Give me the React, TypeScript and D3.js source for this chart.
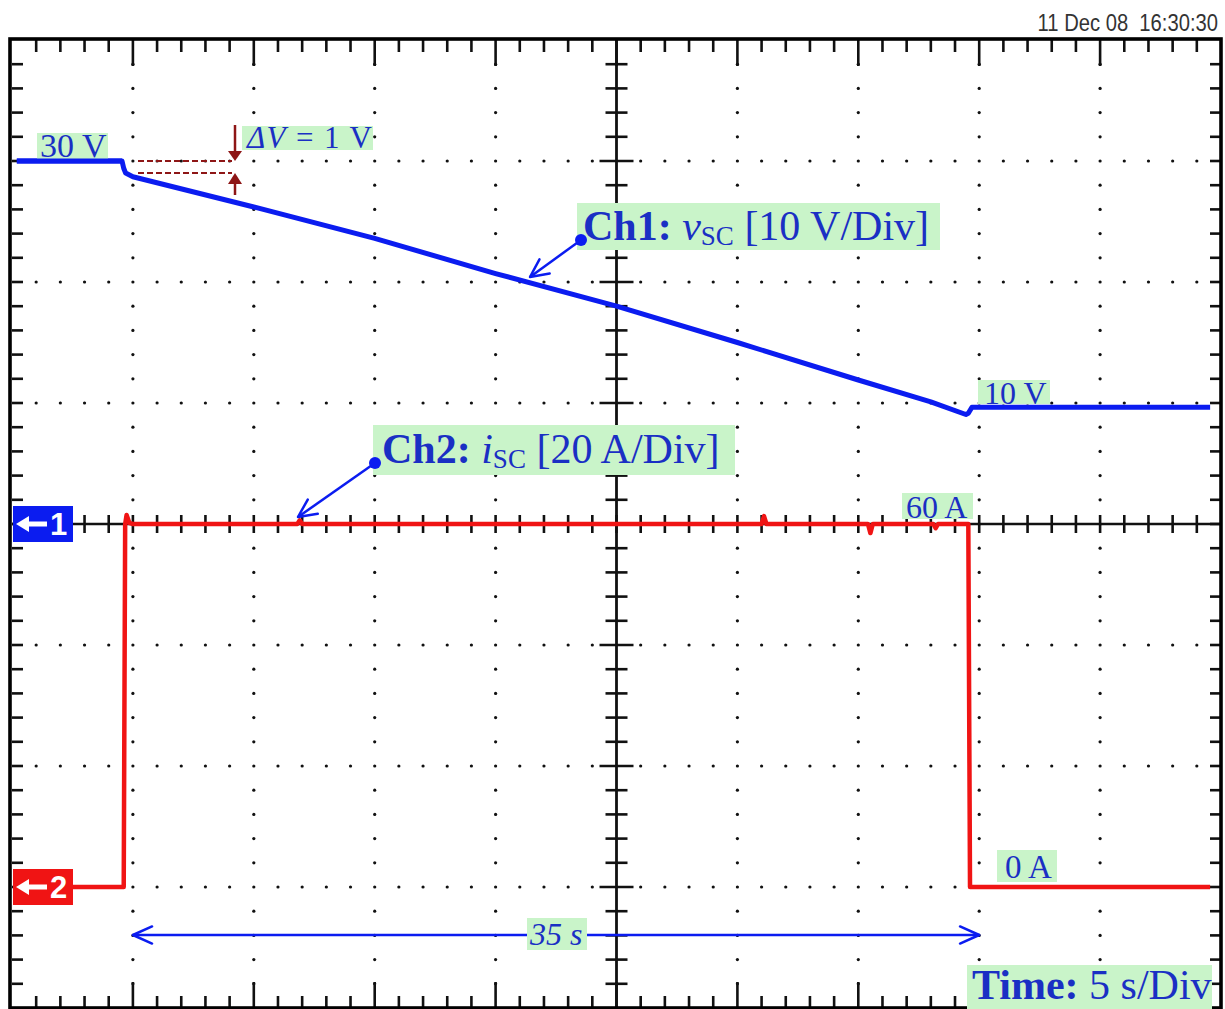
import React from "react";
import * as d3 from "d3";

// ---- data ----
// Ch1: supercapacitor voltage v_SC [V] vs time [s]
const ch1Time = [0.2, 4.55, 4.62, 4.7, 5.0, 10.0, 15.0, 20.0, 25.0, 30.0, 35.0, 38.0, 39.45, 39.55, 39.7, 49.55];
const ch1Volt = [30.0, 30.0, 29.4, 29.0, 28.7, 26.2, 23.6, 20.7, 18.0, 15.0, 11.9, 10.1, 9.05, 9.15, 9.65, 9.65];
// Ch2: supercapacitor current i_SC [A] vs time [s]
const ch2Time = [0.2, 4.62, 4.68, 4.74, 4.85, 5.0, 11.8, 11.9, 12.0, 31.0, 31.1, 31.2, 35.4, 35.5, 35.6, 38.1, 38.2, 38.3, 39.55, 39.62, 49.55];
const ch2Amp = [0, 0, 60, 61.5, 60.2, 60, 60, 60.6, 60, 60, 61.3, 60, 60, 58.5, 60, 60, 59.3, 60, 60, 0, 0];

const timeDivs = 10; // 5 s/Div
const secPerDiv = 5;
const vertDivs = 8;
const ch1VoltPerDiv = 10;
const ch2AmpPerDiv = 20;
const ch1Ground = 0; // divisions from center
const ch2Ground = -3;

const timestamp = "11 Dec 08  16:30:30";

const W = 1225;
const H = 1009;
const X0 = 12, X1 = 1221, Y0 = 40, Y1 = 1008;

const BLUE = "#0b1cf0";
const RED = "#f01414";
const TXT = "#1a2fc4";
const GREEN = "#c9f4c9";
const DARKRED = "#8e1616";
const SERIF = "'Liberation Serif', 'Times New Roman', serif";
const SANS = "'Liberation Sans', Arial, sans-serif";

export default function App() {
  const x = d3.scaleLinear().domain([0, timeDivs * secPerDiv]).range([X0, X1]);
  const yDiv = d3.scaleLinear().domain([-vertDivs / 2, vertDivs / 2]).range([Y1, Y0]);
  const yV = (v: number) => yDiv(v / ch1VoltPerDiv + ch1Ground);
  const yA = (a: number) => yDiv(a / ch2AmpPerDiv + ch2Ground);

  const ch1Pts: [number, number][] = ch1Time.map((t, i) => [x(t), yV(ch1Volt[i])]);
  const ch2Pts: [number, number][] = ch2Time.map((t, i) => [x(t), yA(ch2Amp[i])]);
  const line = d3.line();

  const xMinor = d3.range(1, timeDivs * 5); // 1/5 division steps
  const yMinor = d3.range(1, vertDivs * 5);
  const xm = (k: number) => x((k * secPerDiv) / 5);
  const ym = (k: number) => yDiv(-vertDivs / 2 + k / 5);
  const cx = x((timeDivs / 2) * secPerDiv);
  const cy = yDiv(0);

  const dots: JSX.Element[] = [];
  for (let i = 1; i < timeDivs; i++) {
    if (i === timeDivs / 2) continue;
    for (const k of yMinor) {
      dots.push(<circle key={`v${i}-${k}`} cx={x(i * secPerDiv)} cy={ym(k)} r={1.6} fill="#111" />);
    }
  }
  for (let j = -vertDivs / 2 + 1; j < vertDivs / 2; j++) {
    if (j === 0) continue;
    for (const k of xMinor) {
      if (k % 5 === 0) continue;
      dots.push(<circle key={`h${j}-${k}`} cx={xm(k)} cy={yDiv(j)} r={1.6} fill="#111" />);
    }
  }

  const ticks: JSX.Element[] = [];
  for (const k of xMinor) {
    const L = k % 5 === 0 ? 26 : 12;
    ticks.push(<line key={`tt${k}`} x1={xm(k)} x2={xm(k)} y1={Y0} y2={Y0 + L} />);
    ticks.push(<line key={`tb${k}`} x1={xm(k)} x2={xm(k)} y1={Y1} y2={Y1 - L} />);
    ticks.push(<line key={`tc${k}`} x1={xm(k)} x2={xm(k)} y1={cy - 9} y2={cy + 9} />);
  }
  for (const k of yMinor) {
    ticks.push(<line key={`tl${k}`} x1={X0} x2={X0 + 11} y1={ym(k)} y2={ym(k)} />);
    ticks.push(<line key={`tr${k}`} x1={X1} x2={X1 - 11} y1={ym(k)} y2={ym(k)} />);
    const L = k % 5 === 0 ? 17 : 11;
    ticks.push(<line key={`tv${k}`} x1={cx - L} x2={cx + L} y1={ym(k)} y2={ym(k)} />);
  }

  const chevron = (tx: number, ty: number, fx: number, fy: number, len: number, ang: number, color: string, sw: number) => {
    const a = Math.atan2(fy - ty, fx - tx);
    const p1 = [tx + len * Math.cos(a + ang), ty + len * Math.sin(a + ang)];
    const p2 = [tx + len * Math.cos(a - ang), ty + len * Math.sin(a - ang)];
    return (
      <path
        d={`M${p1[0]},${p1[1]} L${tx},${ty} L${p2[0]},${p2[1]}`}
        fill="none"
        stroke={color}
        strokeWidth={sw}
        strokeLinecap="round"
        strokeLinejoin="round"
      />
    );
  };

  const marker = (yc: number, color: string, label: string) => (
    <g>
      <rect x={13} y={yc - 18} width={60} height={36} fill={color} />
      <path d={`M16,${yc} L29,${yc - 8} L29,${yc - 2.5} L47,${yc - 2.5} L47,${yc + 2.5} L29,${yc + 2.5} L29,${yc + 8} Z`} fill="#fff" />
      <text x={50} y={yc + 11} fontFamily={SANS} fontWeight="bold" fontSize={31} fill="#fff">
        {label}
      </text>
    </g>
  );

  const arrowY = 935;
  const t35a = x(5), t35b = x(40);

  return (
    <svg width={W} height={H} style={{ position: "absolute", left: 0, top: 0, background: "#fff" }}>
      <rect x={0} y={0} width={W} height={H} fill="#fff" />
      <g transform="translate(1218,31) scale(0.86,1)">
        <text x={0} y={0} textAnchor="end" fontFamily={SANS} fontSize={23.5} fill="#333" style={{ whiteSpace: "pre" }}>
          {timestamp}
        </text>
      </g>

      {/* grid */}
      <g>{dots}</g>
      <g stroke="#111" strokeWidth={2.6}>{ticks}</g>
      <line x1={X0} x2={X1} y1={cy} y2={cy} stroke="#111" strokeWidth={2.6} />
      <line x1={cx} x2={cx} y1={Y0} y2={Y1} stroke="#111" strokeWidth={2.8} />
      <rect x={10} y={39} width={1211} height={969} fill="none" stroke="#000" strokeWidth={3.6} />

      {/* Delta V annotation */}
      <g stroke={DARKRED} strokeWidth={2} strokeDasharray="6,3">
        <line x1={138} x2={232} y1={yV(30)} y2={yV(30)} />
        <line x1={138} x2={232} y1={yV(29)} y2={yV(29)} />
      </g>
      <line x1={235} x2={235} y1={125} y2={152} stroke={DARKRED} strokeWidth={2.5} />
      <path d={`M228,151 L242,151 L235,${yV(30)} Z`} fill={DARKRED} />
      <line x1={235} x2={235} y1={195} y2={182} stroke={DARKRED} strokeWidth={2.5} />
      <path d={`M228,184 L242,184 L235,${yV(29)} Z`} fill={DARKRED} />

      {/* traces */}
      <path d={line(ch2Pts) || ""} fill="none" stroke={RED} strokeWidth={4.5} strokeLinejoin="round" />
      <path d={line(ch1Pts) || ""} fill="none" stroke={BLUE} strokeWidth={5} strokeLinejoin="round" />

      {/* 35 s arrow */}
      <line x1={t35a} x2={t35b} y1={arrowY} y2={arrowY} stroke={BLUE} strokeWidth={2.5} />
      {chevron(t35a, arrowY, t35a + 10, arrowY, 21, 0.42, BLUE, 2.5)}
      {chevron(t35b, arrowY, t35b - 10, arrowY, 21, 0.42, BLUE, 2.5)}

      {/* labels */}
      <rect x={37} y={133} width={71} height={28} fill={GREEN} />
      <text x={40} y={157} fontFamily={SERIF} fontSize={34} fill={TXT}>30 V</text>
      <path d={line(ch1Pts.slice(0, 2)) || ""} fill="none" stroke={BLUE} strokeWidth={5} />

      <rect x={242} y={126} width={131} height={24} fill={GREEN} />
      <text x={247} y={148} fontFamily={SERIF} fontSize={31} fill={TXT} textLength={125} lengthAdjust="spacing">
        <tspan fontStyle="italic">{"ΔV"}</tspan>
        <tspan>{" = 1 V"}</tspan>
      </text>

      <rect x={577} y={203} width={363} height={47} fill={GREEN} />
      <text x={583} y={240} fontFamily={SERIF} fontSize={42} fill={TXT}>
        <tspan fontWeight="bold">{"Ch1:"}</tspan>
        <tspan fontStyle="italic">{" v"}</tspan>
        <tspan fontSize={27} dy={5}>{"SC"}</tspan>
        <tspan dy={-5}>{" [10 V/Div]"}</tspan>
      </text>
      <line x1={581} y1={240} x2={530} y2={277} stroke={BLUE} strokeWidth={2.5} />
      {chevron(530, 277, 581, 240, 20, 0.45, BLUE, 2.5)}
      <circle cx={581} cy={240} r={6} fill={BLUE} />

      <rect x={373} y={425} width={362} height={50} fill={GREEN} />
      <text x={382} y={463} fontFamily={SERIF} fontSize={42} fill={TXT}>
        <tspan fontWeight="bold">{"Ch2:"}</tspan>
        <tspan fontStyle="italic">{" i"}</tspan>
        <tspan fontSize={27} dy={5}>{"SC"}</tspan>
        <tspan dy={-5}>{" [20 A/Div]"}</tspan>
      </text>
      <line x1={375} y1={463} x2={298} y2={517} stroke={BLUE} strokeWidth={2.5} />
      {chevron(298, 517, 375, 463, 20, 0.45, BLUE, 2.5)}
      <circle cx={375} cy={463} r={6} fill={BLUE} />

      <rect x={978} y={380} width={72} height={24} fill={GREEN} />
      <text x={984} y={404} fontFamily={SERIF} fontSize={32} fill={TXT}>10 V</text>

      <rect x={902} y={493} width={71} height={26} fill={GREEN} />
      <text x={906} y={518} fontFamily={SERIF} fontSize={32} fill={TXT}>60 A</text>

      <rect x={997} y={850} width={60} height={32} fill={GREEN} />
      <text x={1005} y={878} fontFamily={SERIF} fontSize={33} fill={TXT}>0 A</text>

      <rect x={527} y={918} width={60} height={32} fill={GREEN} />
      <text x={530} y={945} fontFamily={SERIF} fontSize={32} fontStyle="italic" fill={TXT}>35 s</text>

      <rect x={967} y={965} width={245} height={44} fill={GREEN} />
      <text x={972} y={999} fontFamily={SERIF} fontSize={42} fill={TXT}>
        <tspan fontWeight="bold">{"Time:"}</tspan>
        <tspan>{" 5 s/Div"}</tspan>
      </text>

      {/* channel ground markers */}
      {marker(yDiv(ch1Ground), BLUE, "1")}
      {marker(yDiv(ch2Ground), RED, "2")}
    </svg>
  );
}
